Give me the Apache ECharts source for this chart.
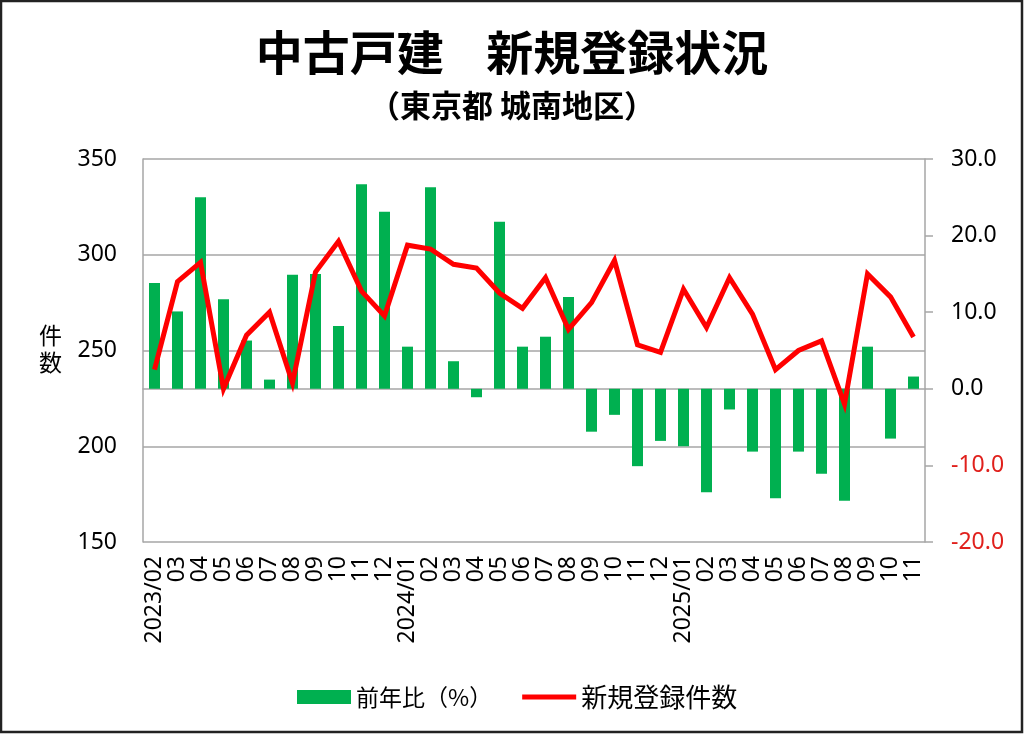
<!DOCTYPE html>
<html>
<head>
<meta charset="utf-8">
<script src="https://cdn.jsdelivr.net/npm/echarts@6/dist/echarts.min.js"></script>
<style>
html,body{margin:0;padding:0;background:#fff;}
#chart{width:1024px;height:734px;}
</style>
</head>
<body>
<div id="chart"></div>
<script>
const titleText = '中古戸建    新規登録状況';
const subtitleText = '（東京都 城南地区）';
const categories = ['2023/02','03','04','05','06','07','08','09','10','11','12',
  '2024/01','02','03','04','05','06','07','08','09','10','11','12',
  '2025/01','02','03','04','05','06','07','08','09','10','11'];
const yoyName = '前年比（%）';
const countName = '新規登録件数';
const yoyValues = [13.8, 10.1, 25.0, 11.7, 6.3, 1.2, 14.9, 15.0, 8.2, 26.7, 23.1,
  5.5, 26.3, 3.6, -1.1, 21.8, 5.5, 6.8, 12.0, -5.6, -3.4, -10.1, -6.8,
  -7.5, -13.5, -2.7, -8.2, -14.3, -8.2, -11.1, -14.6, 5.5, -6.5, 1.6];
const countValues = [240, 286, 296, 230, 258, 270, 233, 291, 307, 281, 268,
  305, 303, 295, 293, 280, 272, 288, 261, 275, 297, 253, 249,
  282, 262, 288, 269, 240, 250, 255, 222, 290, 278, 257];
const leftAxisLabel = '件\n数';

const chart = echarts.init(document.getElementById('chart'), null, {renderer: 'canvas'});
const CJK = '"Noto Sans CJK JP", "Noto Sans", sans-serif';
const NUM = '"Noto Sans", "Liberation Sans", sans-serif';
const gridColor = '#A6A6A6';

chart.setOption({
  backgroundColor: '#fff',
  animation: false,
  title: [
    {text: titleText, left: 'center', top: 24,
     textStyle: {fontFamily: CJK, fontSize: 47, fontWeight: 'bold', color: '#000'}},
    {text: subtitleText, left: 'center', top: 85,
     textStyle: {fontFamily: CJK, fontSize: 31, fontWeight: 'bold', color: '#000'}}
  ],
  graphic: [
    {type: 'rect', shape: {x: 1, y: 1, width: 1021, height: 731},
     style: {fill: 'none', stroke: '#222', lineWidth: 2.5}, silent: true, z: 100},
    {type: 'text', left: 39, top: 322,
     style: {text: leftAxisLabel, font: '23px ' + CJK, fill: '#000', lineHeight: 27}}
  ],
  legend: {
    left: 292, top: 679,
    itemGap: 30,
    itemWidth: 54, itemHeight: 14,
    textStyle: {fontFamily: CJK, fontSize: 23, color: '#000'},
    data: [
      {name: yoyName, icon: 'rect'},
      {name: countName, icon: 'path://M0,0 L54,0 L54,5 L0,5 Z', textStyle: {fontSize: 26}}
    ]
  },
  grid: {left: 143, right: 99, top: 159, bottom: 192, containLabel: false},
  xAxis: {
    type: 'category',
    data: categories,
    axisLine: {show: true, lineStyle: {color: gridColor, width: 1.5}},
    axisTick: {show: false},
    axisLabel: {rotate: 90, interval: 0, margin: 14,
      fontFamily: NUM, fontSize: 23, color: '#000'}
  },
  yAxis: [
    {type: 'value', min: 150, max: 350, interval: 50, position: 'left',
     axisLine: {show: true, lineStyle: {color: gridColor, width: 1.5}},
     axisTick: {show: false},
     splitLine: {show: true, lineStyle: {color: gridColor, width: 1.5}},
     axisLabel: {margin: 26, fontFamily: NUM, fontSize: 23, color: '#000'}},
    {type: 'value', min: -20, max: 30, interval: 10, position: 'right',
     axisLine: {show: true, lineStyle: {color: gridColor, width: 1.5}},
     axisTick: {show: true, inside: false, length: 8, lineStyle: {color: gridColor, width: 1.5}},
     splitLine: {show: false},
     axisLabel: {margin: 26, fontFamily: NUM, fontSize: 23,
       formatter: v => v.toFixed(1),
       color: v => (Number(v) < 0 ? '#E0201C' : '#000')}}
  ],
  series: [
    {name: yoyName, type: 'bar', yAxisIndex: 1, data: yoyValues,
     barWidth: 11, itemStyle: {color: '#00B050'}, z: 2},
    {name: countName, type: 'line', yAxisIndex: 0, data: countValues,
     symbol: 'none', lineStyle: {color: '#FF0000', width: 5, join: 'miter'},
     itemStyle: {color: '#FF0000'}, z: 3}
  ]
});
</script>
</body>
</html>
